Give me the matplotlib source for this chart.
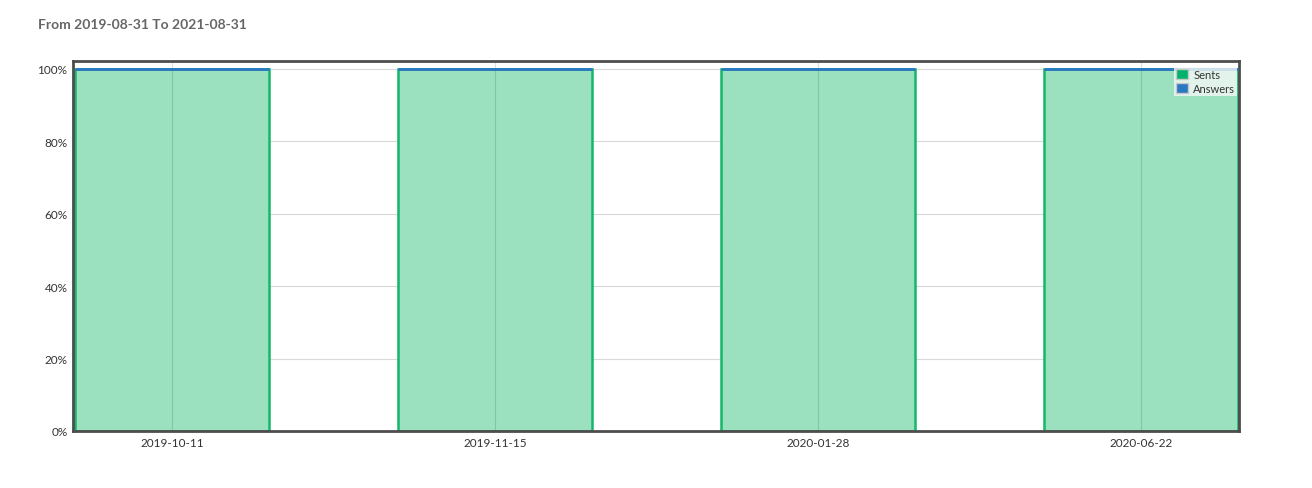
import matplotlib
matplotlib.use("Agg")
import matplotlib.pyplot as plt
from matplotlib.patches import Patch
from matplotlib.ticker import FuncFormatter

plt.rcParams['font.family'] = ['Lato', 'DejaVu Sans']

categories = ["2019-10-11", "2019-11-15", "2020-01-28", "2020-06-22"]
sents = [100, 100, 100, 100]
answers = [100, 100, 100, 100]
title = "From 2019-08-31 To 2021-08-31"

fig = plt.figure(figsize=(13.12, 4.89), dpi=100)
ax = fig.add_axes([73/1312, 1-432/489, (1239-73)/1312, (432-62)/489])

x = list(range(len(categories)))
ax.set_axisbelow(True)
ax.grid(True, axis='y', color='#d9d9d9', linewidth=0.8)
ax.bar(x, sents, width=0.6, color='#9be0bf', edgecolor='#12b76a', linewidth=1.8, zorder=2)
# vertical grid drawn over translucent bars
for xi in x:
    ax.axvline(xi, color='#000000', alpha=0.13, linewidth=0.8, zorder=2.5)
ax.bar(x, [0]*len(answers), bottom=answers, width=0.6, color='none', edgecolor='#2a78c2', linewidth=2.0, zorder=3)

ax.set_xlim(-0.306, 3.303)
ax.set_ylim(0, 102.2)
ax.set_yticks([0, 20, 40, 60, 80, 100])
ax.yaxis.set_major_formatter(FuncFormatter(lambda v, p: f"{int(v)}%"))
ax.set_xticks(x)
ax.set_xticklabels(categories)
ax.tick_params(axis='both', length=0, labelsize=8.5, colors='#333333', pad=4)

for s in ['top', 'bottom', 'left', 'right']:
    ax.spines[s].set_color('#4d4d4d')
    ax.spines[s].set_linewidth(2)

handles = [Patch(facecolor='#00b26a', edgecolor='#c8c8c8', label='Sents'),
           Patch(facecolor='#2a78c2', edgecolor='#c8c8c8', label='Answers')]
leg = ax.legend(handles=handles, loc='upper right', bbox_to_anchor=(0.9985, 0.985),
                fontsize=8, frameon=True, fancybox=False, framealpha=0.8,
                edgecolor='none', handlelength=1.0, handleheight=1.0,
                handletextpad=0.5, borderpad=0.2, labelspacing=0.3, borderaxespad=0)
leg.get_frame().set_facecolor('#f5f9f7')
for t in leg.get_texts():
    t.set_color('#333333')

fig.text(38/1312, 1-25/489, title, fontsize=10, fontweight='bold', color='#666666',
         ha='left', va='center')

fig.savefig("out.png", dpi=100)
